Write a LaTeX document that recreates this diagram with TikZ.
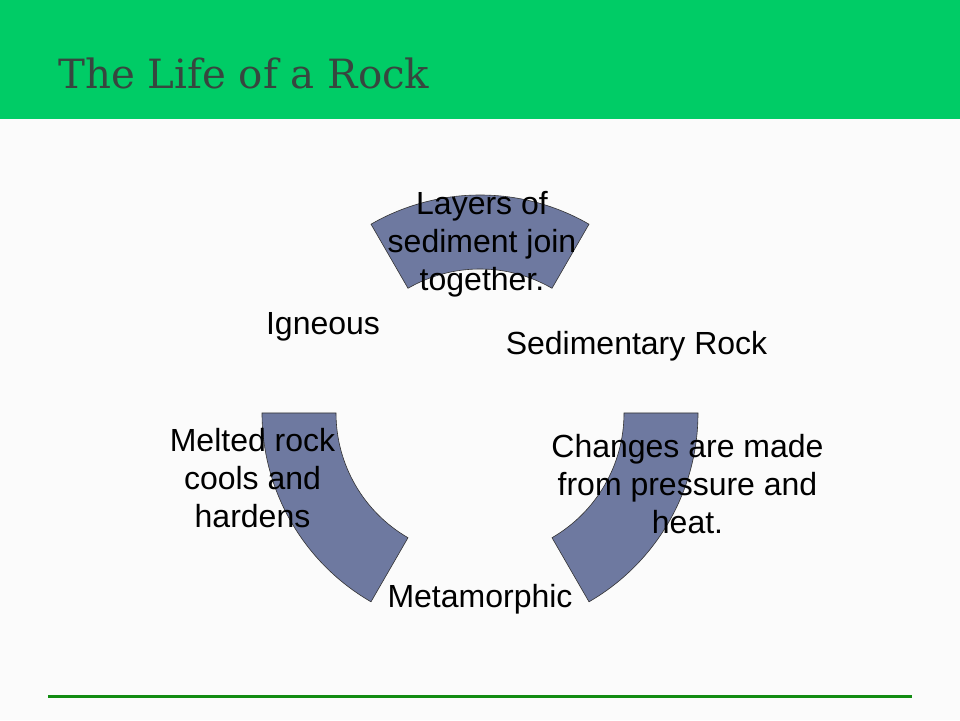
\documentclass[tikz,border=0pt]{standalone}
\usepackage{fontspec}
\usetikzlibrary{calc}
\setmainfont{Liberation Sans}
\newfontfamily\titlefont{DejaVu Serif}
\definecolor{bgc}{HTML}{FBFBFB}
\definecolor{headgreen}{HTML}{00CC66}
\definecolor{titlec}{HTML}{37463F}
\definecolor{segfill}{HTML}{6E79A0}
\definecolor{linegreen}{HTML}{128C12}
\begin{document}
\begin{tikzpicture}[x=1pt,y=1pt,
  seg/.style={draw=black!80,line width=0.6pt,fill=segfill},
  lbl/.style={font=\fontsize{32}{38.4}\selectfont,text=black,align=center,inner sep=0pt,anchor=base}]
\useasboundingbox (0,0) rectangle (960,720);
\fill[bgc] (0,0) rectangle (960,720);
\fill[headgreen] (0,601) rectangle (960,720);
\node[font=\titlefont\fontsize{40.3}{44}\selectfont,text=titlec,anchor=base west,inner sep=0pt] (title) at (58,631) {The Life of a Rock};
\coordinate (c) at (480,307);
% segments
\draw[seg] ($(c)+(60:218)$) arc[start angle=60,end angle=120,radius=218] -- ($(c)+(120:144)$) arc[start angle=120,end angle=60,radius=144] -- cycle;
\draw[seg] ($(c)+(0:218)$) arc[start angle=0,end angle=-60,radius=218] -- ($(c)+(-60:144)$) arc[start angle=-60,end angle=0,radius=144] -- cycle;
\draw[seg] ($(c)+(180:218)$) arc[start angle=180,end angle=240,radius=218] -- ($(c)+(240:144)$) arc[start angle=240,end angle=180,radius=144] -- cycle;
% labels (anchor = baseline of last line)
\node[lbl] (layers) at (482,429) {Layers of\\sediment join\\together.};
\node[lbl] (igneous) at (323,385) {Igneous};
\node[lbl] (sedim) at (636.5,365) {Sedimentary Rock};
\node[lbl] (melted) at (252.5,192) {Melted rock\\cools and\\hardens};
\node[lbl] (changes) at (687.5,186) {Changes are made\\from pressure and\\heat.};
\node[lbl] (metam) at (480,113) {Metamorphic};
\draw[linegreen,line width=3pt] (48,23.5) -- (912,23.5);
\end{tikzpicture}
\end{document}
